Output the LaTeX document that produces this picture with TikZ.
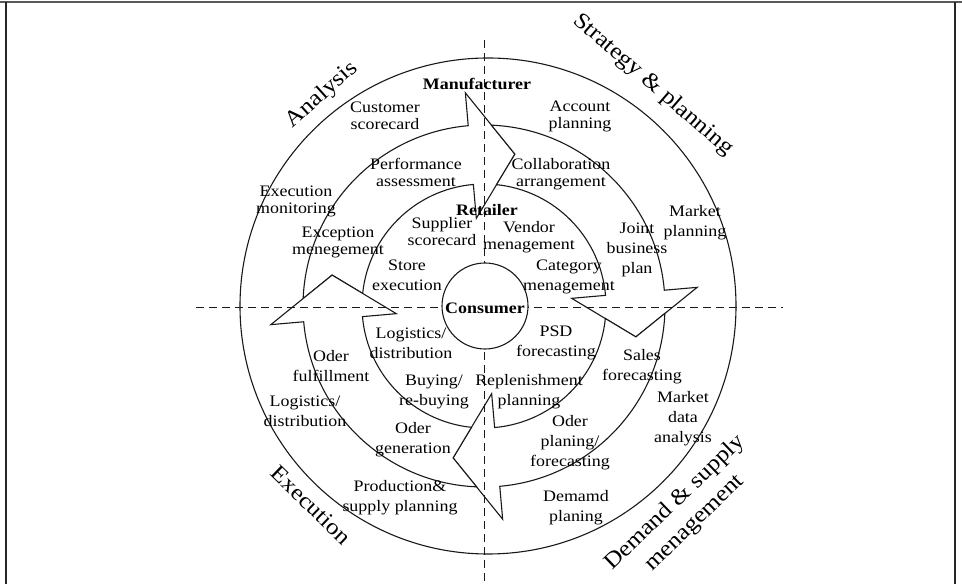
\documentclass[tikz,border=0pt]{standalone}
\usepackage{fontspec}
\setmainfont{Liberation Serif}[FakeStretch=1.12]
\begin{document}
\begin{tikzpicture}[x=1pt,y=1pt,
 lbl/.style={font=\fontsize{16}{17}\selectfont, align=center, inner sep=0pt},
 lblw/.style={font=\fontsize{16}{20}\selectfont, align=center, inner sep=0pt},
 hdr/.style={font=\fontsize{16}{17}\selectfont\bfseries, inner sep=0pt},
 big/.style={font=\fontsize{22.5}{28}\selectfont, align=center, inner sep=0pt},
 ring/.style={line width=1.1pt, draw=black!90, fill=white, line join=miter},
 axis/.style={line width=0.9pt, draw=black!90, dash pattern=on 8pt off 5pt},
 frame/.style={line width=1.4pt, draw=black!65},
]
\useasboundingbox (0,0) rectangle (962,584);
% frame
\coordinate (ftl) at (0,582);
\coordinate (ftr) at (962,582);
\coordinate (fl1) at (6,582);
\coordinate (fl2) at (6,0);
\coordinate (fr1) at (955,582);
\coordinate (fr2) at (955,0);
\draw[frame] (ftl) -- (ftr);
\draw[frame, draw=black!85] (fl1) -- (fl2);
\draw[frame, draw=black!85] (fr1) -- (fr2);

% outer circle
\node[draw=black!90, line width=1.1pt, circle, minimum size=496pt, inner sep=0pt] (outer) at (488,278) {};

% arrow ring
\begin{scope}[shift={(484,278)}]
\foreach \b in {95,5,-85,185}{
 \draw[ring] ({\b+73.5}:155pt) -- ({\b+82.65}:181pt)
   arc[start angle={\b+82.65}, end angle=\b, radius=181pt]
   -- (\b:214pt) -- ({\b-16.5}:155pt) -- (\b:88pt) -- (\b:122pt)
   arc[start angle=\b, end angle={\b+79.1}, radius=122pt] -- cycle;
}
\end{scope}

% axes
\coordinate (vt) at (484,544);
\coordinate (vb) at (484,3);
\coordinate (hl) at (196,277);
\coordinate (hr) at (783,277);
\draw[axis] (vt) -- (vb);
\draw[axis] (hl) -- (hr);

% consumer circle
\node[draw=black!90, line width=1.1pt, fill=white, circle, minimum size=86pt, inner sep=0pt] (cons) at (485,278) {};
\node[hdr] (consumer) at (485,276) {Consumer};

% headers
\node[hdr] (manu) at (477,500) {Manufacturer};
\node[hdr] (retail) at (487,374) {Retailer};

% labels
\node[lbl] (custsc) at (385,468) {Customer\\scorecard};
\node[lbl] (perf) at (416,412) {Performance\\assessment};
\node[lbl] (execmon) at (296,383) {Execution\\monitoring};
\node[lbl] (excmg) at (338,342) {Exception\\menegement};
\node[lbl] (suppsc) at (442,352) {Supplier\\scorecard};
\node[lbl] (vendor) at (529,347) {Vendor\\menagement};
\node[lblw] (store) at (407,309) {Store\\execution};
\node[lblw] (categ) at (569,307) {Category\\menagement};
\node[lbl] (account) at (580,468) {Account\\planning};
\node[lbl] (collab) at (561,410) {Collaboration\\arrangement};
\node[lblw] (mktpl) at (695,361) {Market\\planning};
\node[lblw] (joint) at (637,334) {Joint\\business\\plan};
\node[lblw] (login) at (411,241) {Logistics/\\distribution};
\node[lblw] (psd) at (556,241) {PSD\\forecasting};
\node[lblw] (sales) at (642,217) {Sales\\forecasting};
\node[lblw] (oderful) at (331,218) {Oder\\fulfillment};
\node[lblw] (buying) at (434,192) {Buying/\\re-buying};
\node[lblw] (replen) at (529,192) {Replenishment\\planning};
\node[lblw] (logout) at (305,173) {Logistics/\\distribution};
\node[lblw] (mktdata) at (683,165) {Market\\data\\analysis};
\node[lblw] (odergen) at (413,144) {Oder\\generation};
\node[lblw] (oderpl) at (570,141) {Oder\\planing/\\forecasting};
\node[lblw] (prod) at (400,86) {Production\&\\supply planning};
\node[lblw] (demamd) at (576,76) {Demamd\\planing};

% quadrant titles
\node[big, rotate=42] (analysis) at (322,489) {Analysis};
\node[big, rotate=-41] (strategy) at (653,499) {Strategy \& planning};
\node[big, rotate=-44] (execution) at (311,79) {Execution};
\node[big, rotate=44] (demand) at (685,71) {Demand \& supply\\menagement};
\end{tikzpicture}
\end{document}
